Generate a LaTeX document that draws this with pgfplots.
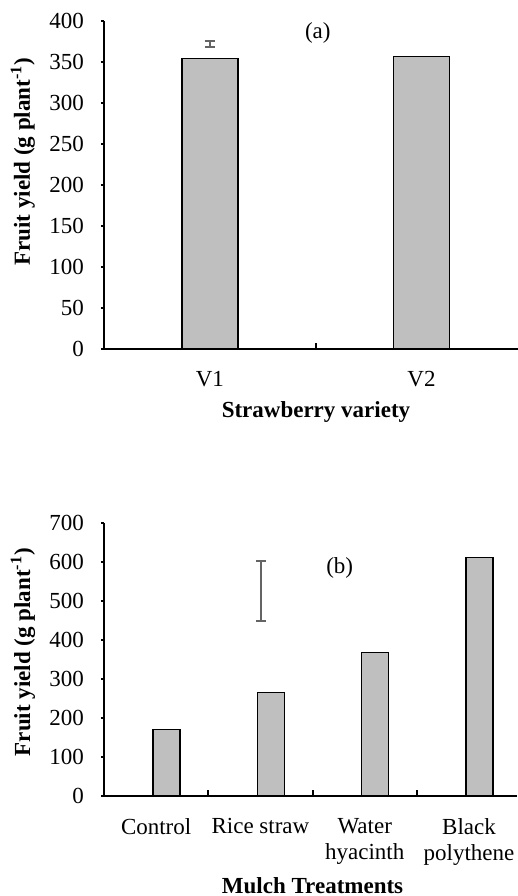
\documentclass[border=0pt]{standalone}
\usepackage{pgfplots}
\pgfplotsset{compat=1.18}
\usepackage{fontspec}
\setmainfont{Liberation Serif}
\definecolor{barfill}{RGB}{191,191,191}
\definecolor{errgray}{RGB}{100,100,100}
\newcommand{\ff}{\fontsize{11.5}{13}\selectfont}
\pgfplotsset{
  myax/.style={
    scale only axis,
    anchor=south west,
    axis x line*=bottom,
    axis y line*=left,
    axis line style={-, line width=1pt},
    tick align=inside,
    major tick length=1.5pt,
    minor tick length=3pt,
    tick style={line width=1pt, black},
    every major y tick/.append style={xshift=-1.5pt},
    every major x tick/.append style={draw=none},
    ylabel style={anchor=center, font=\ff\bfseries},
    xlabel style={anchor=center, font=\ff\bfseries},
    clip=false,
  },
  mybar/.style={ybar, fill=barfill, draw=black, line width=0.75pt},
  myerr/.style={draw=none, mark=none, forget plot,
    error bars/.cd, y dir=both, y explicit,
    error bar style={errgray, line width=0.9pt},
    error mark options={errgray, rotate=90, mark size=2.6pt, line width=0.9pt}},
}
\begin{document}
\begin{tikzpicture}[font=\ff]
\useasboundingbox (0,0) rectangle (259pt,448pt);
% (a)
\begin{axis}[myax,
  at={(52pt,273.5pt)},
  width=207pt, height=164pt,
  xmin=-0.5, xmax=1.456,
  ymin=0, ymax=400,
  ytick={0,50,...,400},
  yticklabels={0,50,100,150,200,250,300,350,400},
  y tick label style={font=\ff, anchor=east, xshift=-6.5pt},
  xtick={0,1}, xticklabels={V1,V2},
  x tick label style={font=\ff, align=center, yshift=-7.5pt},
  minor xtick={0.5},
  bar width=0.265,
  xlabel={Strawberry variety},
  xlabel style={at={(axis description cs:0.512,-0.192)}},
  ylabel={Fruit yield (g plant\textsuperscript{-1})},
  ylabel style={at={(axis description cs:-0.196,0.571)}},
]
\addplot[mybar] coordinates {(0,354) (1,357)};
\addplot[myerr] coordinates {(0,372) +- (0,4)};
\node[font=\ff] at (axis cs:0.51,385) {(a)};
\end{axis}
% (b)
\begin{axis}[myax,
  at={(52pt,50pt)},
  width=206.5pt, height=136.5pt,
  xmin=0, xmax=3.96,
  ymin=0, ymax=700,
  ytick={0,100,...,700},
  yticklabels={0,100,200,300,400,500,600,700},
  y tick label style={font=\ff, anchor=east, xshift=-6.5pt},
  xtick={0.5,1.5,2.5,3.5},
  xticklabels={Control,Rice straw,Water\\hyacinth,Black\\polythene},
  x tick label style={font=\ff, align=center, yshift=-7.5pt},
  minor xtick={1,2,3},
  bar width=0.26,
  xlabel={Mulch Treatments},
  xlabel style={at={(axis description cs:0.505,-0.33)}},
  ylabel={Fruit yield (g plant\textsuperscript{-1})},
  ylabel style={at={(axis description cs:-0.196,0.527)}},
]
\addplot[mybar] coordinates {(0.6,171) (1.6,265) (2.6,368) (3.6,612)};
\addplot[myerr] coordinates {(1.505,526) +- (0,77)};
\node[font=\ff] at (axis cs:2.26,585) {(b)};
\end{axis}
\end{tikzpicture}
\end{document}
